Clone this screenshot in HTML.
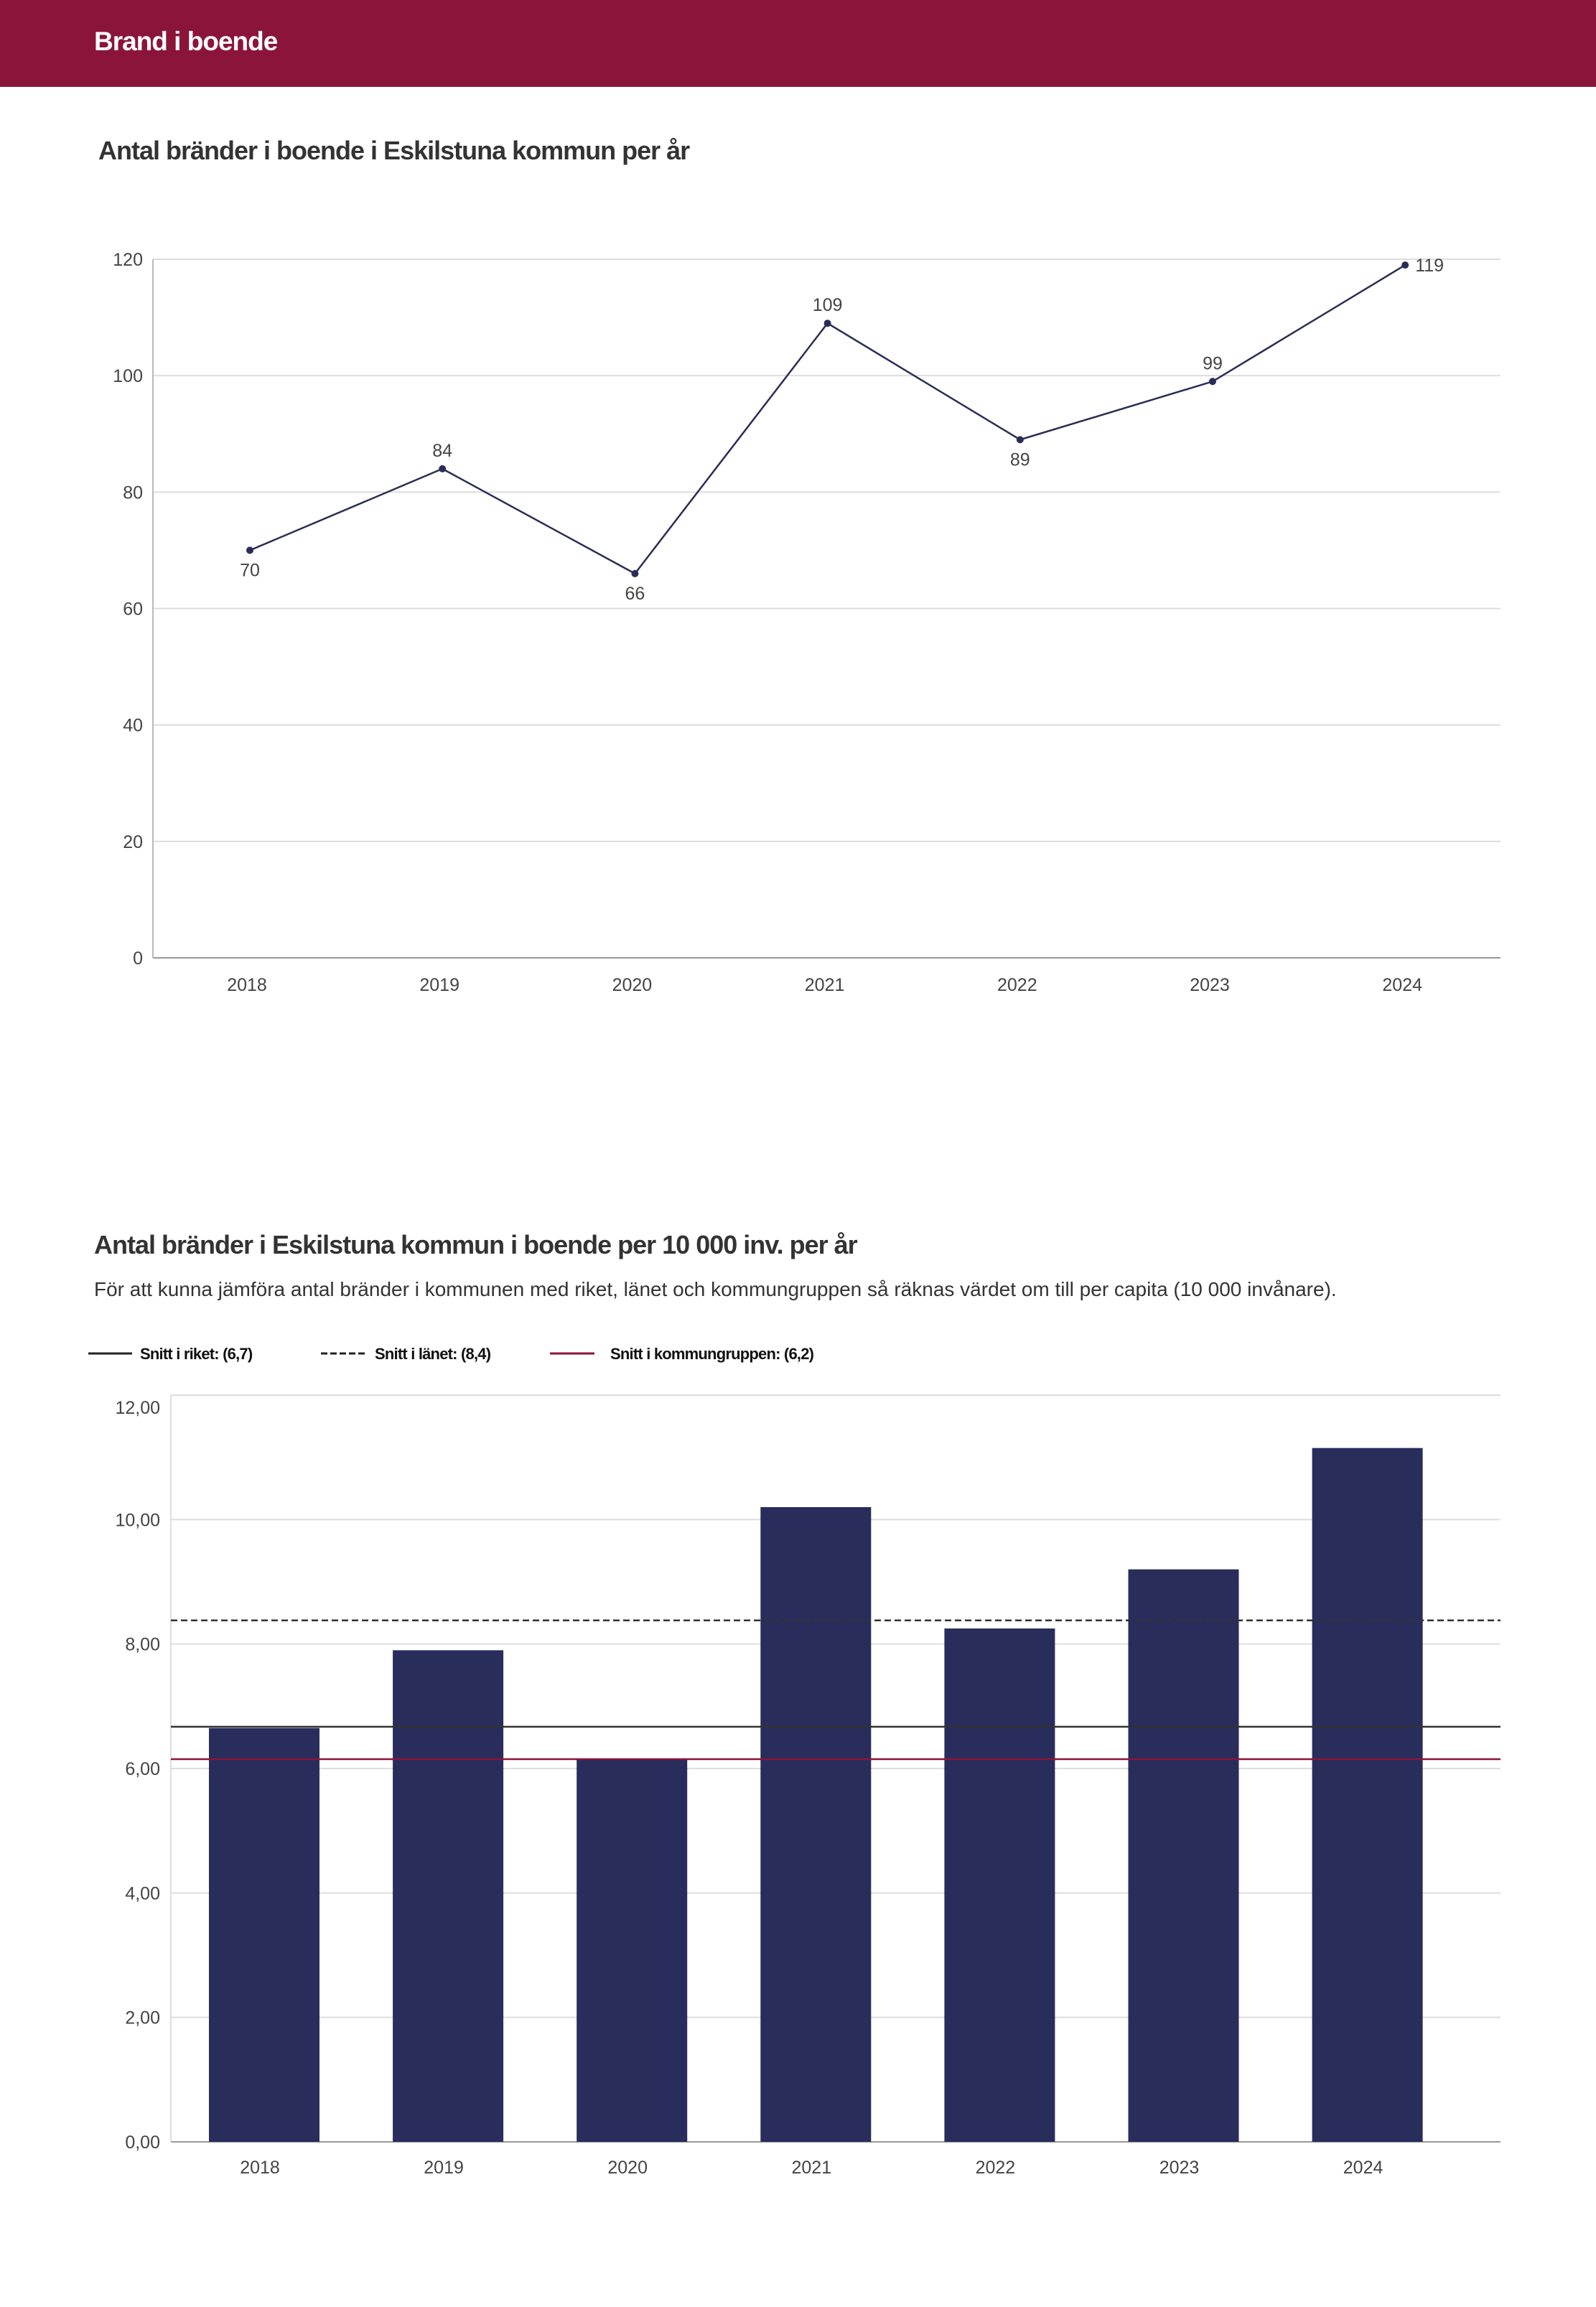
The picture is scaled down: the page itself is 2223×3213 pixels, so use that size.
<!DOCTYPE html>
<html><head><meta charset="utf-8"><style>
body{margin:0;background:#fff;font-family:"Liberation Sans",sans-serif;}
svg{display:block}
</style></head><body>
<svg id="page" width="2223" height="3213" viewBox="0 0 2223 3213" xmlns="http://www.w3.org/2000/svg" font-family="Liberation Sans, sans-serif">
<rect x="0" y="0" width="2223" height="121" fill="#8b1538"/>
<text x="131" y="70" fill="#fff" font-size="37" font-weight="bold" letter-spacing="-1">Brand i boende</text>
<text x="137" y="222" fill="#333" font-size="36" font-weight="bold" letter-spacing="-1">Antal bränder i boende i Eskilstuna kommun per år</text>
<g id="c1"></g>
<text x="131" y="1746" fill="#333" font-size="36" font-weight="bold" letter-spacing="-1">Antal bränder i Eskilstuna kommun i boende per 10 000 inv. per år</text>
<text x="131" y="1805" fill="#333" font-size="28">För att kunna jämföra antal bränder i kommunen med riket, länet och kommungruppen så räknas värdet om till per capita (10 000 invånare).</text>
<g font-size="22" font-weight="bold" fill="#111">
<line x1="123" y1="1885" x2="184" y2="1885" stroke="#222" stroke-width="3"/>
<text x="195" y="1893" letter-spacing="-0.8">Snitt i riket: (6,7)</text>
<line x1="447" y1="1885" x2="508" y2="1885" stroke="#222" stroke-width="3" stroke-dasharray="9,4"/>
<text x="522" y="1893" letter-spacing="-0.8">Snitt i länet: (8,4)</text>
<line x1="766" y1="1885" x2="828" y2="1885" stroke="#8b1538" stroke-width="3"/>
<text x="850" y="1893" letter-spacing="-0.8">Snitt i kommungruppen: (6,2)</text>
</g>
<g id="c2"></g>
</svg>
<script>
const years = ["2018","2019","2020","2021","2022","2023","2024"];
const fires = [70,84,66,109,89,99,119];
const labelPos = ["below","above","below","above","below","above","right"];
const yTicks1 = [0,20,40,60,80,100,120];
const perCapita = [6.65,7.9,6.15,10.2,8.25,9.2,11.15];
const yTicks2 = [0,2,4,6,8,10,12];
const yTickLabels2 = ["0,00","2,00","4,00","6,00","8,00","10,00","12,00"];
const refRiket = 6.67;
const refLanet = 8.38;
const refKommungrupp = 6.15;

const NS="http://www.w3.org/2000/svg";
function mk(parent,tag,attrs,text){const e=document.createElementNS(NS,tag);for(const k in attrs)e.setAttribute(k,attrs[k]);if(text!==undefined)e.textContent=text;parent.appendChild(e);return e;}

// Chart 1
const c1=document.getElementById('c1');
const L1=213,R1=2090,T1=361,B1=1334;
const y1=v=>B1-(v/120)*(B1-T1);
const x1=i=>348+i*268.2;
yTicks1.forEach(t=>{
  const g=mk(c1,'line',{x1:L1,x2:R1,y1:y1(t),y2:y1(t),stroke:t===0?'#999':'#ddd','stroke-width':2});
  
  
  const tx=mk(c1,'text',{x:199,y:y1(t)+9,'text-anchor':'end','font-size':25,fill:'#444'},String(t));
  
  
});
const ax=mk(c1,'line',{x1:L1,x2:L1,y1:T1,y2:B1,stroke:'#bbb','stroke-width':2});


years.forEach((yr,i)=>{
  const tx=mk(c1,'text',{x:x1(i)-4,y:1380,'text-anchor':'middle','font-size':25,fill:'#444'},yr);
  
  
});
const pts=fires.map((v,i)=>x1(i)+','+y1(v)).join(' ');
const pl=mk(c1,'polyline',{points:pts,fill:'none',stroke:'#2a2d55','stroke-width':2.5});


fires.forEach((v,i)=>{
  const c=mk(c1,'circle',{cx:x1(i),cy:y1(v),r:5,fill:'#2a2d55'});
  
  
  let lx=x1(i),ly=y1(v),anc='middle';
  if(labelPos[i]==='below')ly+=36;else if(labelPos[i]==='above')ly-=17;else{lx+=14;ly+=9;anc='start';}
  const t=mk(c1,'text',{x:lx,y:ly,'text-anchor':anc,'font-size':25,fill:'#444'},String(v));
  
  
});

// Chart 2
const c2=document.getElementById('c2');
const L2=238,R2=2090,T2=1943,B2=2983;
const y2=v=>B2-(v/12)*(B2-T2);
const x2=i=>368+i*256.1;
yTicks2.forEach((t,k)=>{
  const g=mk(c2,'line',{x1:L2,x2:R2,y1:y2(t),y2:y2(t),stroke:t===0?'#999':'#ddd','stroke-width':2});
  
  
  const tx=mk(c2,'text',{x:223,y:y2(t)+(t===12?26:9),'text-anchor':'end','font-size':25,fill:'#444'},yTickLabels2[k]);
  
  
});
const ax2=mk(c2,'line',{x1:L2,x2:L2,y1:T2,y2:B2,stroke:'#ddd','stroke-width':2});


perCapita.forEach((v,i)=>{
  const r=mk(c2,'rect',{x:x2(i)-77,y:y2(v),width:154,height:B2-y2(v),fill:'#282d5c'});
  
  
  const tx=mk(c2,'text',{x:x2(i)-6,y:3027,'text-anchor':'middle','font-size':25,fill:'#444'},years[i]);
  
  
});
const r1=mk(c2,'line',{x1:L2,x2:R2,y1:y2(refRiket),y2:y2(refRiket),stroke:'#333','stroke-width':2.5});


const r2=mk(c2,'line',{x1:L2,x2:R2,y1:y2(refLanet),y2:y2(refLanet),stroke:'#333','stroke-width':2.5,'stroke-dasharray':'9,5'});


const r3=mk(c2,'line',{x1:L2,x2:R2,y1:y2(refKommungrupp),y2:y2(refKommungrupp),stroke:'#8b1538','stroke-width':2.5});


</script>
</body></html>
